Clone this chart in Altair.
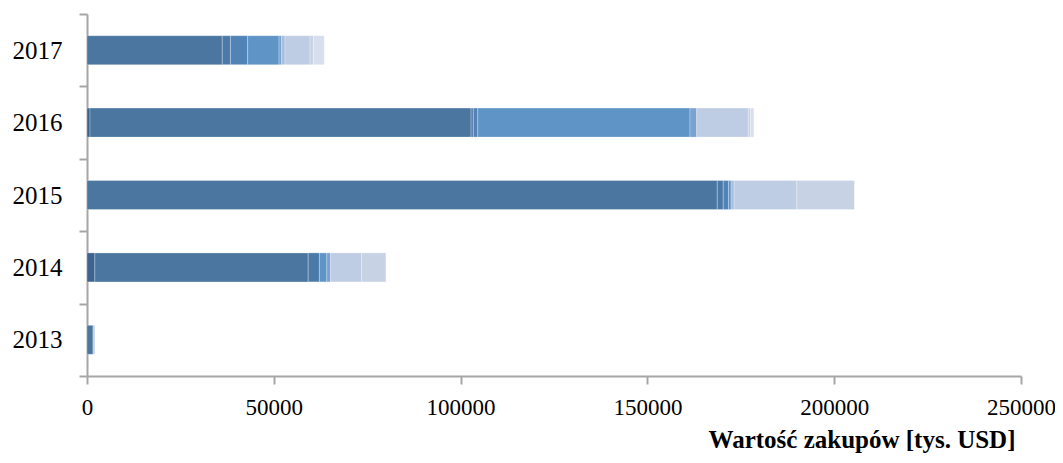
import altair as alt
import pandas as pd

years = ["2013", "2014", "2015", "2016", "2017"]
series = ["S1", "S2", "S3", "S4", "S5", "S6", "S7", "S8", "S9", "S10"]
colors = ["#3d6391", "#4a76a0", "#4b7aa8", "#5283b6", "#5e94c6",
          "#78a2d0", "#a6bcdc", "#bfcde4", "#c7d2e5", "#d7deed"]

# values per series, in order of years (tys. USD)
s1 = [0, 2100, 0, 800, 0]
s2 = [1600, 57100, 168700, 102000, 36200]
s3 = [0, 3000, 1600, 600, 2200]
s4 = [0, 0, 1400, 1200, 4600]
s5 = [0, 2000, 700, 56800, 8400]
s6 = [0, 1000, 0, 1800, 700]
s7 = [0, 0, 800, 0, 900]
s8 = [500, 8300, 16800, 13800, 6700]
s9 = [0, 6500, 15400, 600, 900]
s10 = [0, 0, 0, 900, 2900]

values = [s1, s2, s3, s4, s5, s6, s7, s8, s9, s10]
x_ticks = [0, 50000, 100000, 150000, 200000, 250000]

rows = []
for i, (name, vals) in enumerate(zip(series, values)):
    for y, v in zip(years, vals):
        if v > 0:
            rows.append({"rok": y, "seria": name, "idx": i, "wartosc": v})
df = pd.DataFrame(rows)

chart = alt.Chart(df).mark_bar(size=29, stroke="#ffffff", strokeOpacity=0.35, strokeWidth=0.8).encode(
    y=alt.Y("rok:N", sort=years[::-1], title=None,
            scale=alt.Scale(paddingInner=0, paddingOuter=0),
            axis=alt.Axis(tickBand="extent", labelFont="Liberation Serif", labelFontSize=25,
                          labelColor="#000000", domainColor="#a6a6a6", domainWidth=2,
                          tickColor="#a6a6a6", tickWidth=2, tickSize=8, labelPadding=17)),
    x=alt.X("wartosc:Q", stack="zero", title="Wartość zakupów [tys. USD]",
            scale=alt.Scale(domain=[0, 250000], nice=False),
            axis=alt.Axis(values=x_ticks, format="d", grid=False, labelFont="Liberation Serif",
                          labelFontSize=23, labelColor="#000000", domainColor="#a6a6a6",
                          domainWidth=2, tickColor="#a6a6a6", tickWidth=2, tickSize=8,
                          labelPadding=12, titleFont="Liberation Serif", titleFontSize=25,
                          titleFontWeight="bold", titleColor="#000000", titleAnchor="end",
                          titleAlign="right", titleX=928, titlePadding=8, labelFlush=False)),
    color=alt.Color("seria:N", scale=alt.Scale(domain=series, range=colors), legend=None),
    order=alt.Order("idx:Q", sort="ascending"),
).properties(
    width=934, height=362,
    autosize=alt.AutoSizeParams(type="none"),
    padding={"left": 79, "top": 6, "right": 34, "bottom": 79},
).configure_view(stroke=None)

chart.save("out.html", embed_options={"renderer": "svg", "actions": False})
